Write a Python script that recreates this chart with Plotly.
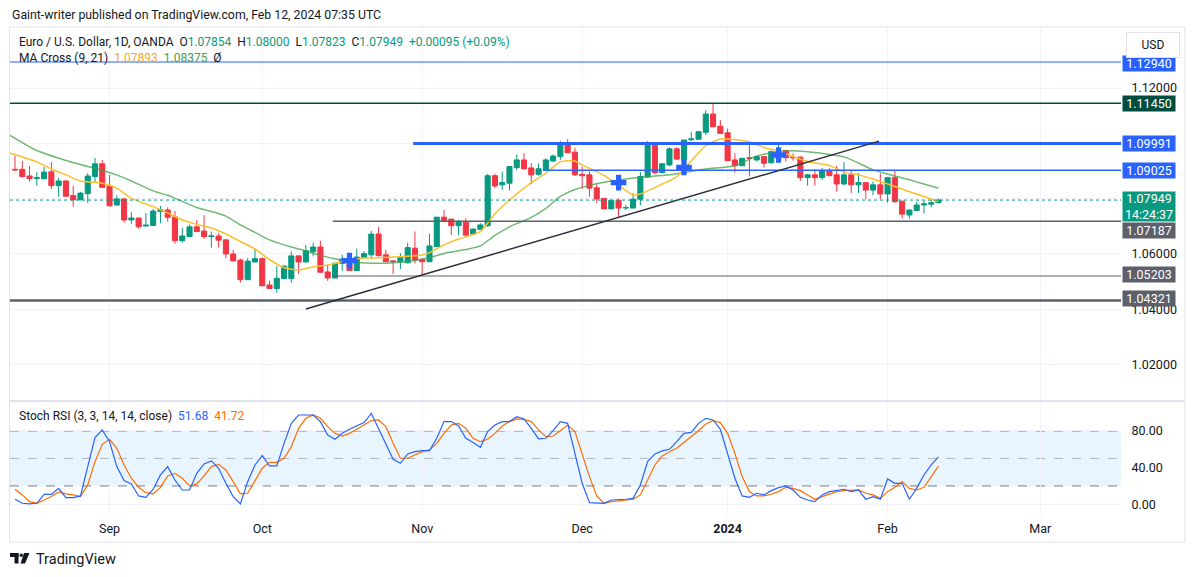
import plotly.graph_objects as go
import pandas as pd

# OANDA daily sessions: weekdays, closed on Christmas and New Year's day
holidays = ["2023-12-25", "2024-01-01"]
session = [d for d in pd.bdate_range("2023-08-14", "2024-02-12")
           if d.strftime("%Y-%m-%d") not in holidays]
dates = session[1:]  # first candle on Aug 15

opens = [1.0906, 1.0906, 1.0882, 1.0873, 1.0872, 1.0897, 1.0847, 1.0864, 1.0811, 1.0796,
         1.0818, 1.0880, 1.0926, 1.0846, 1.0777, 1.0799, 1.0723, 1.0730, 1.0701, 1.0703,
         1.0754, 1.0759, 1.0734, 1.0648, 1.0663, 1.0698, 1.0683, 1.0663, 1.0665, 1.0651,
         1.0600, 1.0578, 1.0507, 1.0571, 1.0583, 1.0488, 1.0475, 1.0511, 1.0511, 1.0593,
         1.0571, 1.0608, 1.0625, 1.0535, 1.0513, 1.0566, 1.0582, 1.0540, 1.0587, 1.0597,
         1.0672, 1.0597, 1.0575, 1.0572, 1.0568, 1.0621, 1.0581, 1.0572, 1.0627, 1.0733,
         1.0726, 1.0702, 1.0715, 1.0672, 1.0689, 1.0702, 1.0883, 1.0850, 1.0856, 1.0912,
         1.0940, 1.0911, 1.0888, 1.0906, 1.0936, 1.0952, 1.0994, 1.0968, 1.0888, 1.0886,
         1.0839, 1.0801, 1.0763, 1.0794, 1.0766, 1.0766, 1.0798, 1.0878, 1.0992, 1.0894,
         1.0922, 1.0980, 1.0940, 1.1013, 1.1015, 1.1040, 1.1106, 1.1062, 1.1038, 1.0940,
         1.0919, 1.0948, 1.0940, 1.0952, 1.0930, 1.0945, 1.0974, 1.0950, 1.0950, 1.0876,
         1.0886, 1.0876, 1.0901, 1.0886, 1.0853, 1.0886, 1.0850, 1.0858, 1.0831, 1.0850,
         1.0817, 1.0876, 1.0791, 1.0741, 1.0757, 1.0777, 1.0780, 1.07854]
highs = [1.0955, 1.0936, 1.0918, 1.0896, 1.0915, 1.0933, 1.0875, 1.0866, 1.0846, 1.0825,
         1.0892, 1.0947, 1.0940, 1.0886, 1.0812, 1.0802, 1.0751, 1.0731, 1.0748, 1.0763,
         1.0774, 1.0769, 1.0755, 1.0694, 1.0706, 1.0723, 1.0740, 1.0681, 1.0675, 1.0652,
         1.0615, 1.0583, 1.0585, 1.0621, 1.0588, 1.0503, 1.0556, 1.0559, 1.0609, 1.0595,
         1.0632, 1.0641, 1.0648, 1.0561, 1.0568, 1.0597, 1.0593, 1.0619, 1.0611, 1.0683,
         1.0698, 1.0615, 1.0576, 1.0603, 1.0641, 1.0681, 1.0582, 1.0673, 1.0734, 1.0759,
         1.0727, 1.0723, 1.0729, 1.0693, 1.0711, 1.0890, 1.0890, 1.0898, 1.0917, 1.0960,
         1.0964, 1.0928, 1.0928, 1.0946, 1.0960, 1.1008, 1.1015, 1.0984, 1.0916, 1.0898,
         1.0852, 1.0802, 1.0795, 1.0801, 1.0777, 1.0820, 1.0896, 1.1008, 1.0993, 1.0927,
         1.0986, 1.0986, 1.1013, 1.1042, 1.1043, 1.1120, 1.1144, 1.1084, 1.1054, 1.0964,
         1.0947, 1.0997, 1.0953, 1.0953, 1.0974, 1.1000, 1.0976, 1.0964, 1.0953, 1.0887,
         1.0906, 1.0910, 1.0910, 1.0918, 1.0932, 1.0901, 1.0892, 1.0859, 1.0862, 1.0892,
         1.0877, 1.0901, 1.0792, 1.0760, 1.0789, 1.0793, 1.0795, 1.08000]
lows = [1.0901, 1.0876, 1.0862, 1.0847, 1.0870, 1.0835, 1.0807, 1.0807, 1.0771, 1.0794,
        1.0785, 1.0858, 1.0838, 1.0772, 1.0774, 1.0713, 1.0709, 1.0692, 1.0700, 1.0701,
        1.0711, 1.0717, 1.0638, 1.0641, 1.0662, 1.0680, 1.0654, 1.0623, 1.0623, 1.0585,
        1.0574, 1.0497, 1.0506, 1.0570, 1.0484, 1.0474, 1.0460, 1.0510, 1.0495, 1.0528,
        1.0570, 1.0591, 1.0533, 1.0503, 1.0512, 1.0539, 1.0539, 1.0539, 1.0586, 1.0583,
        1.0591, 1.0571, 1.0527, 1.0545, 1.0566, 1.0566, 1.0527, 1.0571, 1.0626, 1.0720,
        1.0668, 1.0668, 1.0667, 1.0668, 1.0688, 1.0698, 1.0838, 1.0831, 1.0829, 1.0904,
        1.0904, 1.0852, 1.0883, 1.0905, 1.0932, 1.0940, 1.0965, 1.0882, 1.0835, 1.0807,
        1.0783, 1.0762, 1.0762, 1.0730, 1.0759, 1.0765, 1.0777, 1.0877, 1.0888, 1.0893,
        1.0917, 1.0939, 1.0939, 1.1008, 1.1014, 1.1030, 1.1058, 1.1035, 1.0936, 1.0894,
        1.0918, 1.0880, 1.0934, 1.0912, 1.0926, 1.0934, 1.0934, 1.0937, 1.0864, 1.0847,
        1.0847, 1.0868, 1.0882, 1.0825, 1.0850, 1.0820, 1.0820, 1.0798, 1.0813, 1.0798,
        1.0785, 1.0785, 1.0728, 1.0728, 1.0756, 1.0747, 1.0768, 1.07823]
closes = [1.0904, 1.0880, 1.0873, 1.0876, 1.0896, 1.0847, 1.0864, 1.0809, 1.0796, 1.0820,
          1.0882, 1.0926, 1.0841, 1.0774, 1.0799, 1.0723, 1.0730, 1.0698, 1.0704, 1.0755,
          1.0760, 1.0733, 1.0648, 1.0665, 1.0698, 1.0681, 1.0663, 1.0665, 1.0650, 1.0600,
          1.0575, 1.0507, 1.0574, 1.0583, 1.0485, 1.0475, 1.0512, 1.0556, 1.0593, 1.0571,
          1.0612, 1.0625, 1.0534, 1.0513, 1.0567, 1.0582, 1.0540, 1.0589, 1.0601, 1.0672,
          1.0594, 1.0572, 1.0573, 1.0587, 1.0623, 1.0578, 1.0572, 1.0629, 1.0733, 1.0721,
          1.0702, 1.0715, 1.0668, 1.0690, 1.0705, 1.0883, 1.0846, 1.0858, 1.0916, 1.0940,
          1.0908, 1.0886, 1.0908, 1.0940, 1.0954, 1.1000, 1.0966, 1.0886, 1.0883, 1.0838,
          1.0799, 1.0763, 1.0794, 1.0766, 1.0768, 1.0798, 1.0880, 1.0992, 1.0894, 1.0926,
          1.0980, 1.0943, 1.1012, 1.1016, 1.1042, 1.1106, 1.1060, 1.1036, 1.0937, 1.0919,
          1.0946, 1.0946, 1.0952, 1.0928, 1.0970, 1.0974, 1.0948, 1.0948, 1.0876, 1.0886,
          1.0876, 1.0901, 1.0883, 1.0853, 1.0886, 1.0850, 1.0858, 1.0831, 1.0850, 1.0817,
          1.0876, 1.0789, 1.0744, 1.0759, 1.0777, 1.0781, 1.0785, 1.07949]

# moving averages at selected bars (bar 0 = Aug 15)
ma9_bar = [-1, 3, 5, 7, 9, 12, 14, 16, 19, 21, 23, 25, 27, 29, 31, 33, 35, 37, 39, 41,
           43, 46, 48, 50, 53, 56, 57, 59, 61, 64, 66, 68, 71, 73, 75, 77, 78, 81, 83, 85,
           86, 89, 91, 93, 95, 97, 98, 101, 103, 105, 107, 109, 112, 114, 116, 118, 121,
           123, 125, 127]
ma9_val = [1.0967, 1.0933, 1.0907, 1.0886, 1.0864, 1.0856, 1.0838, 1.0801, 1.0771, 1.0748,
           1.0723, 1.0707, 1.0694, 1.0672, 1.0645, 1.0618, 1.0580, 1.0550, 1.0542, 1.0553,
           1.0560, 1.0578, 1.0585, 1.0586, 1.0590, 1.0596, 1.0605, 1.0633, 1.0654, 1.0681,
           1.0745, 1.0795, 1.0858, 1.0892, 1.0933, 1.0936, 1.0922, 1.0884, 1.0849, 1.0813,
           1.0817, 1.0853, 1.0879, 1.0936, 1.0992, 1.1016, 1.1016, 1.1005, 1.0985, 1.0972,
           1.0952, 1.0934, 1.0920, 1.0896, 1.0886, 1.0871, 1.0844, 1.0825, 1.0808, 1.07893]
ma21_bar = [-1, 3, 7, 12, 14, 16, 19, 21, 23, 25, 29, 31, 33, 35, 38, 40, 42, 45, 47, 50,
            52, 55, 57, 59, 62, 64, 66, 68, 71, 73, 75, 77, 79, 81, 85, 90, 95, 99, 102,
            104, 107, 110, 112, 114, 116, 118, 120, 123, 125, 127]
ma21_val = [1.1034, 1.0974, 1.0938, 1.0902, 1.0886, 1.0864, 1.0828, 1.0812, 1.0790, 1.0768,
            1.0737, 1.0705, 1.0678, 1.0651, 1.0625, 1.0611, 1.0595, 1.0577, 1.0569, 1.0566,
            1.0568, 1.0576, 1.0587, 1.0602, 1.0616, 1.0629, 1.0667, 1.0698, 1.0732, 1.0765,
            1.0808, 1.0833, 1.0848, 1.0859, 1.0875, 1.0886, 1.0907, 1.0919, 1.0954, 1.0965,
            1.0973, 1.0967, 1.0960, 1.0951, 1.0929, 1.0904, 1.0889, 1.0868, 1.0853, 1.08375]

# MA cross signals
cross_bar = [46, 83, 92, 105]
cross_val = [1.0576, 1.0858, 1.0913, 1.0958]

stoch_k = [5.4, 1.1, 0.4, 1.1, 10.9, 10.9, 17.4, 7.3, 7.3, 9.1, 41.1, 72.7, 81.1, 68.3, 41.1,
           25.8, 22.2, 9.1, 7.6, 16.4, 32.0, 41.1, 26.5, 15.6, 15.6, 33.8, 44.0, 47.3, 39.3,
           22.9, 8.4, 0.4, 24.7, 42.9, 53.1, 41.8, 41.8, 66.5, 88.3, 97.4, 97.4, 97.4, 90.2,
           75.6, 70.9, 77.4, 81.8, 85.8, 89.1, 99.3, 82.9, 66.5, 49.1, 44.7, 54.9, 57.4, 58.5,
           58.5, 72.0, 90.2, 90.2, 85.4, 72.0, 67.3, 62.2, 79.3, 86.5, 90.2, 90.2, 95.6, 93.1,
           82.9, 71.3, 72.0, 80.3, 90.2, 88.3, 55.6, 22.9, 1.8, 1.1, 1.1, 4.7, 4.7, 5.5, 6.5,
           21.1, 46.5, 54.9, 58.2, 60.0, 68.3, 77.4, 78.5, 88.3, 93.8, 92.0, 81.8, 55.6, 28.4,
           9.1, 7.6, 12.0, 10.2, 14.9, 18.2, 20.0, 15.6, 7.6, 4.7, 2.9, 10.2, 13.8, 14.9, 16.4,
           13.8, 15.6, 5.5, 8.4, 5.5, 27.6, 22.9, 22.9, 5.5, 17.4, 32.0, 42.9, 51.68]
stoch_d = [16.4, 10.2, 2.9, 1.1, 4.7, 8.4, 13.4, 11.3, 10.2, 8.4, 21.1, 46.5, 65.4, 70.9, 61.1,
           42.9, 28.4, 18.5, 12.7, 11.3, 18.5, 30.9, 33.8, 28.4, 20.0, 22.2, 30.9, 41.1, 43.6,
           37.4, 24.7, 11.3, 12.0, 26.5, 39.3, 45.8, 45.8, 50.2, 62.9, 82.9, 93.8, 97.4, 93.8,
           84.7, 77.4, 74.5, 77.4, 81.8, 86.5, 91.3, 92.0, 84.7, 66.5, 50.2, 50.2, 53.8, 57.4,
           59.3, 66.5, 77.4, 86.5, 88.3, 82.9, 72.0, 68.3, 70.9, 77.4, 85.4, 90.2, 93.1, 92.7,
           90.2, 81.1, 73.8, 74.5, 80.3, 86.5, 79.3, 55.6, 30.2, 9.1, 1.1, 2.9, 4.0, 4.7, 5.5,
           10.2, 26.5, 42.9, 52.7, 57.4, 61.1, 67.3, 73.1, 80.3, 87.6, 91.3, 89.1, 77.4, 55.6,
           30.2, 13.8, 9.1, 9.1, 10.9, 13.8, 18.5, 17.4, 14.9, 10.2, 5.5, 8.4, 11.3, 13.8, 14.9,
           14.9, 15.6, 12.0, 10.2, 6.5, 13.8, 18.5, 24.7, 17.4, 15.6, 18.5, 30.2, 41.72]

# drawn levels and trend line
level_val = [1.1294, 1.1145, 1.09991, 1.09025, 1.07187, 1.05203, 1.04321]
level_start = [None, None, "2023-10-30 18:00", "2023-11-23 14:00",
               "2023-10-13 17:00", "2023-10-13 17:00", None]
level_color = ["#2962FF", "#004D40", "#2962FF", "#2962FF", "#5D606B", "#5D606B", "#5D606B"]
level_width = [1, 1.5, 3, 1.5, 1.5, 1, 2.5]
trend_x = ["2023-10-10", "2024-01-30 20:00"]
trend_y = [1.0401, 1.1008]
last_price = 1.07949

price_ticks = [1.02, 1.04, 1.06, 1.08, 1.10, 1.12]
price_text = ["1.02000", "1.04000", "1.06000", "", "", "1.12000"]  # 1.08/1.10 sit under tags
stoch_ticks = [0, 40, 80]
month_ticks = ["2023-09-01", "2023-10-02", "2023-11-01", "2023-12-01",
               "2024-01-02", "2024-02-01", "2024-03-01"]
month_text = ["Sep", "Oct", "Nov", "Dec", "<b>2024</b>", "Feb", "Mar"]

# the page body adds an 8px margin, so the figure is drawn 8px smaller and
# all positions below are given in screenshot pixels
OFF = 8
W, H = 1195 - OFF, 577 - OFF
L, R, T, B = 10, 1121, 28, 515          # plot area in screenshot pixels
def px(x):
    return (x - L) / (R - L)
def py(y):
    return (B - y) / (B - T)

FONT = "Roboto"
INK = "#131722"
GRID = "#F0F3FA"
UP, DOWN = "#089981", "#F23645"

fig = go.Figure()

fig.add_trace(go.Candlestick(
    x=dates, open=opens, high=highs, low=lows, close=closes,
    increasing=dict(line=dict(color=UP, width=1), fillcolor=UP),
    decreasing=dict(line=dict(color=DOWN, width=1), fillcolor=DOWN),
    whiskerwidth=0, hoverinfo="skip", showlegend=False, xaxis="x", yaxis="y"))

fig.add_trace(go.Scatter(
    x=[session[b + 1] for b in ma21_bar], y=ma21_val, mode="lines",
    line=dict(color="rgba(67,160,71,0.75)", width=1.5, shape="spline", smoothing=0.6),
    hoverinfo="skip", showlegend=False, xaxis="x", yaxis="y"))
fig.add_trace(go.Scatter(
    x=[session[b + 1] for b in ma9_bar], y=ma9_val, mode="lines",
    line=dict(color="#FBC02D", width=1.5, shape="spline", smoothing=0.6),
    hoverinfo="skip", showlegend=False, xaxis="x", yaxis="y"))
fig.add_trace(go.Scatter(
    x=[dates[b] for b in cross_bar], y=cross_val, mode="markers",
    marker=dict(symbol="cross", size=13, color="#2962FF", line=dict(width=0)),
    hoverinfo="skip", showlegend=False, xaxis="x", yaxis="y"))

fig.add_trace(go.Scatter(
    x=dates, y=stoch_d, mode="lines", line=dict(color="#FF6D00", width=1.2),
    hoverinfo="skip", showlegend=False, xaxis="x", yaxis="y2"))
fig.add_trace(go.Scatter(
    x=dates, y=stoch_k, mode="lines", line=dict(color="#2962FF", width=1.2),
    hoverinfo="skip", showlegend=False, xaxis="x", yaxis="y2"))

shapes = []
# stoch band and guide lines
shapes.append(dict(type="rect", xref="paper", yref="y2", x0=0, x1=1, y0=20, y1=80,
                   fillcolor="rgba(33,150,243,0.1)", line=dict(width=0), layer="below"))
for lvl, col in [(80, "#787B86"), (50, "rgba(120,123,134,0.5)"), (20, "#787B86")]:
    shapes.append(dict(type="line", xref="paper", yref="y2", x0=0, x1=1, y0=lvl, y1=lvl,
                       line=dict(color=col, width=1, dash="dash"), layer="below"))
# horizontal levels
for val, start, col, w in zip(level_val, level_start, level_color, level_width):
    if start is None:
        shapes.append(dict(type="line", xref="paper", yref="y", x0=0, x1=1, y0=val, y1=val,
                           line=dict(color=col, width=w)))
    else:
        shapes.append(dict(type="line", xref="x", yref="y", x0=start, x1="2024-04-30",
                           y0=val, y1=val, line=dict(color=col, width=w)))
# trend line
shapes.append(dict(type="line", xref="x", yref="y", x0=trend_x[0], x1=trend_x[1],
                   y0=trend_y[0], y1=trend_y[1], line=dict(color="#2A2E39", width=1.5)))
# last price line
shapes.append(dict(type="line", xref="paper", yref="y", x0=0, x1=1, y0=last_price,
                   y1=last_price, line=dict(color=UP, width=1, dash="dot")))
# frame and pane separator
shapes.append(dict(type="rect", xref="paper", yref="paper", x0=px(9.5), x1=px(1185),
                   y0=py(542), y1=py(27), line=dict(color="#E0E3EB", width=1)))
shapes.append(dict(type="line", xref="paper", yref="paper", x0=px(9.5), x1=px(1185),
                   y0=py(401), y1=py(401), line=dict(color="#E0E3EB", width=2)))
# TradingView logo
shapes.append(dict(type="rect", xref="paper", yref="paper", x0=px(10), x1=px(18.5),
                   y0=py(557), y1=py(553), fillcolor=INK, line=dict(width=0)))
shapes.append(dict(type="rect", xref="paper", yref="paper", x0=px(14.5), x1=px(18.5),
                   y0=py(563.5), y1=py(553), fillcolor=INK, line=dict(width=0)))
shapes.append(dict(type="circle", xref="paper", yref="paper", x0=px(19.5), x1=px(23),
                   y0=py(557), y1=py(553.5), fillcolor=INK, line=dict(width=0)))
logo = [(24, 553), (29.5, 553), (25, 563.5), (20.5, 563.5)]
shapes.append(dict(type="path", xref="paper", yref="paper", fillcolor=INK, line=dict(width=0),
                   path="M " + " L ".join(f"{px(a)},{py(b)}" for a, b in logo) + " Z"))

sp = "\u00a0"
def c(txt, col):
    return f"<span style='color:{col}'>{txt}</span>"

annotations = []
def note(x, y, text, size=12.5, color=INK, **kw):
    annotations.append(dict(xref="paper", yref="paper", x=px(x), y=py(y), text=text,
                            showarrow=False, xanchor="left", yanchor="middle",
                            font=dict(family=FONT, size=size, color=color), **kw))

note(10, 15, "Gaint-writer published on TradingView.com, Feb 12, 2024 07:35 UTC", size=12.3)
note(17, 42, "Euro / U.S. Dollar, 1D, OANDA" + sp * 2
     + "O" + c("1.07854", UP) + sp * 2 + "H" + c("1.08000", UP) + sp * 2
     + "L" + c("1.07823", UP) + sp * 2 + "C" + c("1.07949", UP) + sp * 2
     + c("+0.00095 (+0.09%)", UP), size=12)
note(17, 58, "MA Cross (9, 21)" + sp * 2 + c("1.07893", "#F9A825") + sp * 2
     + c("1.08375", "#43A047") + sp * 2 + "Ø", size=12)
note(17, 416, "Stoch RSI (3, 3, 14, 14, close)" + sp * 2 + c("51.68", "#2962FF")
     + sp * 2 + c("41.72", "#FF6D00"), size=12)
note(34, 559, "TradingView", size=14.5)

# price scale labels
tags = [(1.1294, "1.12940", "#2962FF", -1.5), (1.1145, "1.11450", "#004D40", 0),
        (1.09991, "1.09991", "#2962FF", 0), (1.09025, "1.09025", "#2962FF", 0),
        (1.07187, "1.07187", "#5D606B", -9), (1.05203, "1.05203", "#5D606B", 2),
        (1.04321, "1.04321", "#5D606B", 2)]
for val, txt, col, shift in tags:
    annotations.append(dict(xref="paper", yref="y", x=px(1148.5), y=val, text=txt,
                            showarrow=False, xanchor="center", yanchor="middle",
                            yshift=shift, bgcolor=col, width=52, height=15, borderpad=0,
                            font=dict(family=FONT, size=12.5, color="white")))
annotations.append(dict(xref="paper", yref="y", x=px(1148.5), y=last_price,
                        text="1.07949<br>14:24:37", showarrow=False, xanchor="center",
                        yanchor="middle", yshift=-6, bgcolor=UP, width=52, height=29,
                        borderpad=0, font=dict(family=FONT, size=12.5, color="white")))
annotations.append(dict(xref="paper", yref="paper", x=px(1153), y=py(45), text="USD",
                        showarrow=False, xanchor="center", yanchor="middle", width=50,
                        height=22, bgcolor="white", bordercolor="#E0E3EB", borderwidth=1,
                        font=dict(family=FONT, size=12, color=INK)))

fig.update_layout(
    width=W, height=H, autosize=False,
    margin=dict(l=L - OFF, r=W - (R - OFF), t=T - OFF, b=H - (B - OFF)),
    paper_bgcolor="white", plot_bgcolor="white",
    showlegend=False, boxgap=0.3, boxgroupgap=0,
    font=dict(family=FONT, size=12, color=INK),
    shapes=shapes, annotations=annotations,
    xaxis=dict(type="date", anchor="y2",
               range=["2023-08-14 07:26", "2024-03-18 02:24"],
               rangebreaks=[dict(bounds=["sat", "mon"]), dict(values=holidays)],
               rangeslider=dict(visible=False),
               tickvals=month_ticks, ticktext=month_text,
               ticks="outside", ticklen=2, tickcolor="rgba(0,0,0,0)",
               tickfont=dict(family=FONT, size=12.5, color=INK),
               showgrid=True, gridcolor=GRID, zeroline=False, showline=False),
    yaxis=dict(domain=[py(400), 1], range=[1.0072, 1.1417], side="right", anchor="x",
               tickvals=price_ticks, ticktext=price_text,
               ticks="outside", ticklen=7, tickcolor="rgba(0,0,0,0)",
               tickfont=dict(family=FONT, size=12.5, color=INK),
               showgrid=True, gridcolor=GRID, zeroline=False, showline=False),
    yaxis2=dict(domain=[0, py(402)], range=[-11.7, 111.6], side="right", anchor="x",
                tickvals=stoch_ticks, ticktext=[f"{v:.2f}" for v in stoch_ticks],
                ticks="outside", ticklen=7, tickcolor="rgba(0,0,0,0)",
                tickfont=dict(family=FONT, size=12.5, color=INK),
                showgrid=True, gridcolor=GRID, zeroline=False, showline=False),
)

fig.write_html("out.html")
